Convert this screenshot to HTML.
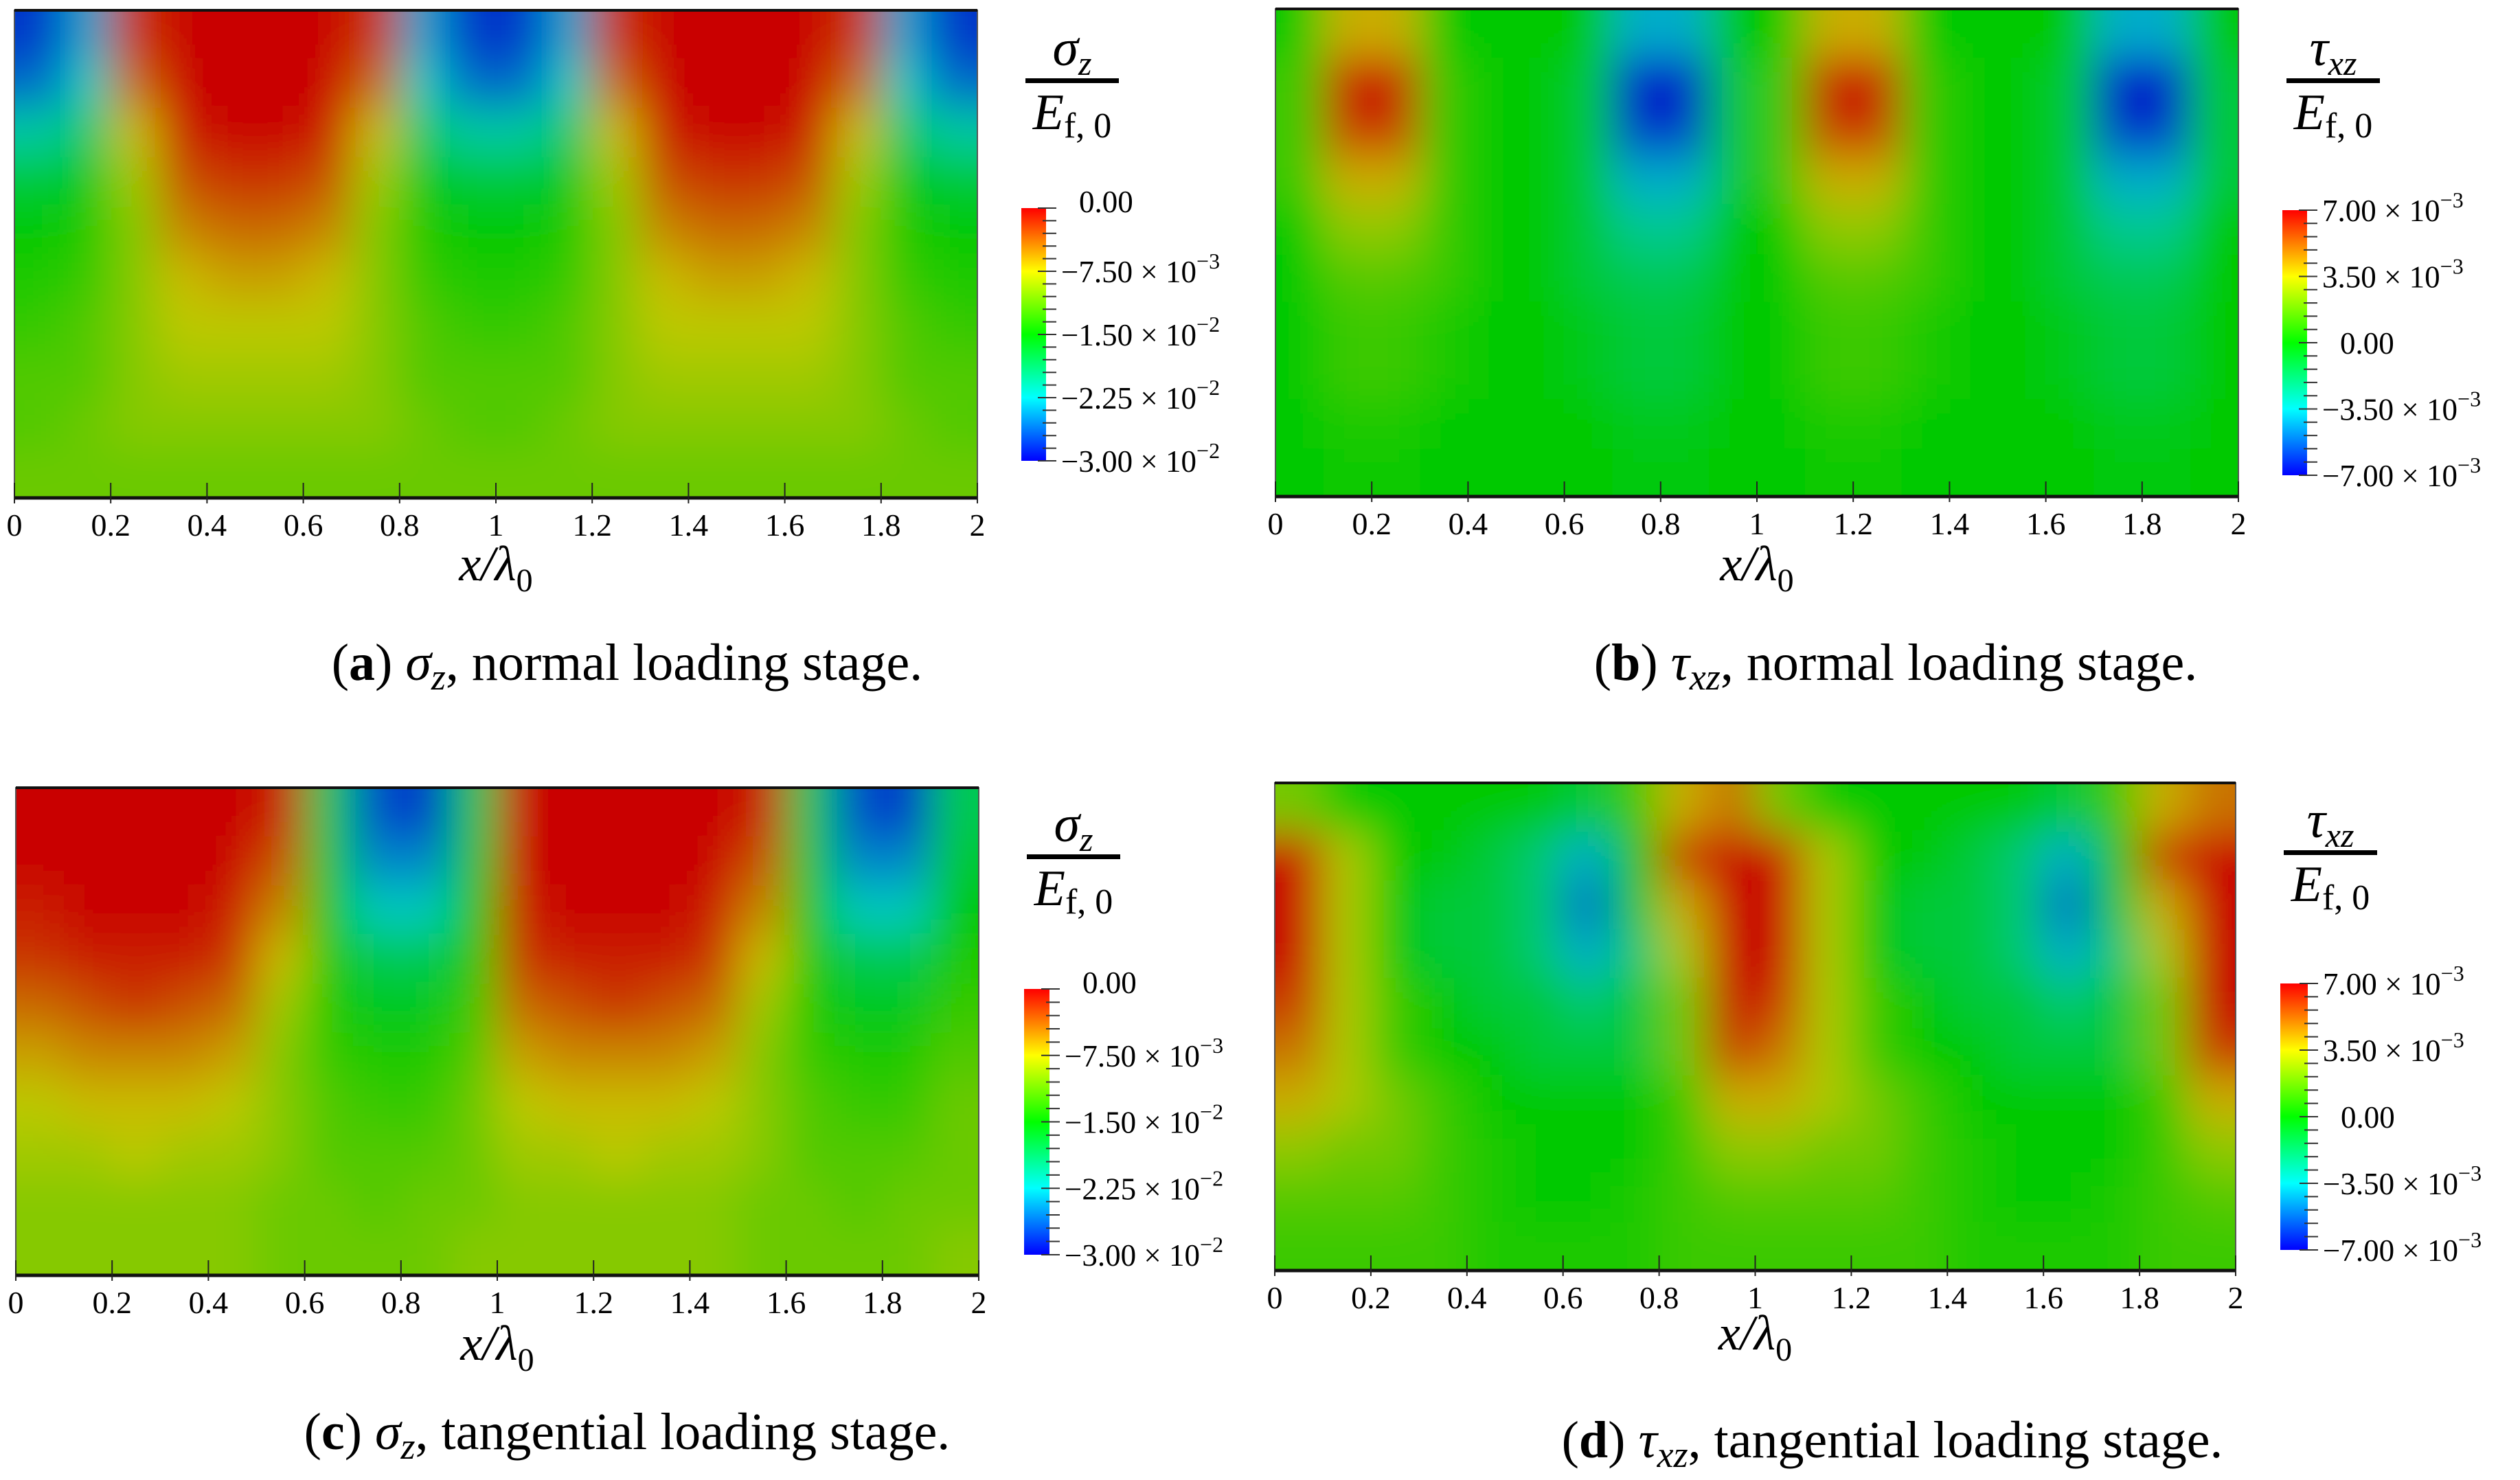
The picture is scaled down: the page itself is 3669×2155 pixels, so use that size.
<!DOCTYPE html>
<html><head><meta charset="utf-8">
<style>
html,body{margin:0;padding:0;background:#fff;}
svg{display:block;}
text{font-family:"Liberation Serif",serif;fill:#000;}
</style></head>
<body>
<svg id="fig" width="3669" height="2155" viewBox="0 0 3669 2155" xmlns="http://www.w3.org/2000/svg">
<defs>
<filter id="blur" x="-0.2" y="-0.2" width="1.4" height="1.4"><feGaussianBlur stdDeviation="32"/></filter>
<linearGradient id="jet" x1="0" y1="1" x2="0" y2="0">
<stop offset="0" stop-color="#0000ff"/><stop offset="0.25" stop-color="#00ffff"/><stop offset="0.5" stop-color="#00ff00"/><stop offset="0.75" stop-color="#ffff00"/><stop offset="1" stop-color="#ff0000"/>
</linearGradient>
</defs>
</svg>
<script>
// x-axis ticks (x/lambda0)
const xTicks = [0,0.2,0.4,0.6,0.8,1,1.2,1.4,1.6,1.8,2];
const xTickLabels = ["0","0.2","0.4","0.6","0.8","1","1.2","1.4","1.6","1.8","2"];
// colorbar ranges (units 1e-3)
const sigmaRange = [-30, 0];
const tauRange = [-7, 7];
const sigmaLabels = ["0.00","−7.50 × 10<sup>−3</sup>","−1.50 × 10<sup>−2</sup>","−2.25 × 10<sup>−2</sup>","−3.00 × 10<sup>−2</sup>"];
const tauLabels = ["7.00 × 10<sup>−3</sup>","3.50 × 10<sup>−3</sup>","0.00","−3.50 × 10<sup>−3</sup>","−7.00 × 10<sup>−3</sup>"];

// field values, 10 depth rows x 20 columns (x = 0.05 ... 1.95), units 1e-3
const fieldA = [
[-28,-24,-2,0,0,0,0,-2,-24,-28,-28,-24,-2,0,0,0,0,-2,-24,-28],
[-26,-22,-4,0,0,0,0,-4,-22,-26,-26,-22,-4,0,0,0,0,-4,-22,-26],
[-21,-19,-7,-1,0,0,-1,-7,-19,-21,-21,-19,-7,-1,0,0,-1,-7,-19,-21],
[-17,-16,-9,-3,-2,-2,-3,-9,-16,-17,-17,-16,-9,-3,-2,-2,-3,-9,-16,-17],
[-15,-14,-10,-5,-4,-4,-5,-10,-14,-15,-15,-14,-10,-5,-4,-4,-5,-10,-14,-15],
[-14,-13,-10,-7,-6,-6,-7,-10,-13,-14,-14,-13,-10,-7,-6,-6,-7,-10,-13,-14],
[-13,-12,-10,-8,-8,-8,-8,-10,-12,-13,-13,-12,-10,-8,-8,-8,-8,-10,-12,-13],
[-12,-12,-10,-9,-9,-9,-9,-10,-12,-12,-12,-12,-10,-9,-9,-9,-9,-10,-12,-12],
[-12,-11,-10,-10,-10,-10,-10,-10,-11,-12,-12,-11,-10,-10,-10,-10,-10,-10,-11,-12],
[-11,-11,-11,-11,-11,-11,-11,-11,-11,-11,-11,-11,-11,-11,-11,-11,-11,-11,-11,-11]
];
const fieldB = [
[0,4,4,0,0,0,0,-4,-4,0,0,4,4,0,0,0,0,-4,-4,0],
[1,7,7,1,0,0,-1,-7,-7,-1,1,7,7,1,0,0,-1,-7,-7,-1],
[1,6,6,1,0,0,-1,-6,-6,-1,1,6,6,1,0,0,-1,-6,-6,-1],
[1,4,4,1,0,0,-1,-4,-4,-1,1,4,4,1,0,0,-1,-4,-4,-1],
[0,2.5,2.5,1,0,0,-1,-2.5,-2.5,0,0,2.5,2.5,1,0,0,-1,-2.5,-2.5,0],
[0,1.5,1.5,1,0,0,-1,-1.5,-1.5,0,0,1.5,1.5,1,0,0,-1,-1.5,-1.5,0],
[0,1,1,0.5,0,0,-0.5,-1,-1,0,0,1,1,0.5,0,0,-0.5,-1,-1,0],
[0,1,1,0.5,0,0,-0.5,-1,-1,0,0,1,1,0.5,0,0,-0.5,-1,-1,0],
[0,0.5,0.5,0,0,0,0,-0.5,-0.5,0,0,0.5,0.5,0,0,0,0,-0.5,-0.5,0],
[0,0.3,0.3,0,0,0,0,-0.3,-0.3,0,0,0.3,0.3,0,0,0,0,-0.3,-0.3,0]
];
const fieldC = [
[0,0,0,0,0,-1,-18,-27,-28,-18,0,0,0,0,0,-1,-18,-27,-28,-18],
[0,0,0,0,0,-3,-17,-25,-25,-17,0,0,0,0,0,-3,-17,-25,-25,-17],
[-1,0,0,0,-1,-5,-15,-22,-22,-15,-1,0,0,0,-1,-5,-15,-22,-22,-15],
[-2,-1,-1,-1,-2,-7,-14,-18,-18,-14,-2,-1,-1,-1,-2,-7,-14,-18,-18,-14],
[-4,-3,-2,-3,-4,-9,-14,-16,-16,-13,-4,-3,-2,-3,-4,-9,-14,-16,-16,-13],
[-6,-5,-5,-5,-6,-10,-13,-14,-14,-12,-6,-5,-5,-5,-6,-10,-13,-14,-14,-12],
[-8,-7,-7,-7,-8,-10,-12,-13,-13,-11,-8,-7,-7,-7,-8,-10,-12,-13,-13,-11],
[-9,-9,-8,-9,-9,-10,-12,-12,-12,-11,-9,-9,-8,-9,-9,-10,-12,-12,-12,-11],
[-10,-10,-10,-10,-10,-11,-11,-12,-11,-11,-10,-10,-10,-10,-10,-11,-11,-12,-11,-11],
[-10,-10,-10,-10,-10,-11,-11,-11,-11,-10,-10,-10,-10,-10,-10,-11,-11,-11,-11,-10]
];
const fieldD = [
[2,0,0,0,0,0,-1,1,4,5,2,0,0,0,0,0,-1,1,4,5],
[7,3,0,0,-1,-2,-4,0,6,8,7,3,0,0,-1,-2,-4,0,6,8],
[7,3,0,-1,-1,-2,-5,-1,4,8,7,3,0,-1,-1,-2,-5,-1,4,8],
[7,3,0,-1,-1,-2,-4,-2,3,8,7,3,0,-1,-1,-2,-4,-2,3,8],
[6,3,1,0,-1,-1,-2,-1,2,7,6,3,1,0,-1,-1,-2,-1,2,7],
[5,3,1,0,0,-1,-1,-1,2,6,5,3,1,0,0,-1,-1,-1,2,6],
[4,3,2,1,0,0,0,0,1,4,4,3,2,1,0,0,0,0,1,4],
[2.5,2,2,1,0.5,0,0,0,1,2.5,2.5,2,2,1,0.5,0,0,0,1,2.5],
[1.5,1.5,1.5,1,0.5,0,0,0.5,1,1.5,1.5,1.5,1.5,1,0.5,0,0,0.5,1,1.5],
[1,1,1,1,0.5,0.5,0.5,0.5,1,1,1,1,1,1,0.5,0.5,0.5,0.5,1,1]
];

const NS = "http://www.w3.org/2000/svg";
const svg = document.getElementById('fig');
const defs = svg.querySelector('defs');

function jet(t){
  t=Math.max(0,Math.min(1,t));
  const stops=[[0,0,255],[0,255,255],[0,255,0],[255,255,0],[255,0,0]];
  const s=t*4, i=Math.min(3,Math.floor(s)), f=s-i;
  return stops[i].map((c,k)=>c+(stops[i+1][k]-c)*f);
}
function mk(tag, attrs, parent){
  const e=document.createElementNS(NS,tag);
  for(const k in attrs) e.setAttribute(k,attrs[k]);
  (parent||svg).appendChild(e);
  return e;
}

const panels = [
 {id:'a', field:fieldA, range:sigmaRange, labels:sigmaLabels, sym:'σ', sub:'z',
  px:[21,1423], py:[15,725], cb:[1487,303,36,368], fracX:1561, fracY:0, axisTitleY:845, cap:[913,990,'a','σ','z','normal']},
 {id:'b', field:fieldB, range:tauRange, labels:tauLabels, sym:'τ', sub:'xz',
  px:[1857,3259], py:[13,723], cb:[3323,306,36,386], fracX:3397, fracY:0, axisTitleY:845, cap:[2760,990,'b','τ','xz','normal']},
 {id:'c', field:fieldC, range:sigmaRange, labels:sigmaLabels, sym:'σ', sub:'z',
  px:[23,1425], py:[1147,1857], cb:[1491,1440,37,387], fracX:1563, fracY:1130, axisTitleY:1980, cap:[913,2110,'c','σ','z','tangential']},
 {id:'d', field:fieldD, range:tauRange, labels:tauLabels, sym:'τ', sub:'xz',
  px:[1856,3255], py:[1140,1850], cb:[3320,1432,40,388], fracX:3393, fracY:1124, axisTitleY:1965, cap:[2755,2122,'d','τ','xz','tangential']}
];

panels.forEach(p=>{
  const [x0,x1]=p.px, [y0,y1]=p.py;
  const nR=p.field.length, nC=p.field[0].length;
  const xs = v => x0 + (v/2)*(x1-x0);
  const ys = d => y0 + d*(y1-y0);
  const cval = v => (v-p.range[0])/(p.range[1]-p.range[0]);

  const g=mk('g',{});
  
  

  const cp=mk('clipPath',{id:'clip'+p.id},defs);
  mk('rect',{x:x0,y:y0,width:x1-x0,height:y1-y0},cp);
  const clipG=mk('g',{'clip-path':'url(#clip'+p.id+')'},g);
  const heat=mk('g',{filter:'url(#blur)'},clipG);
  
  
  const cw=2/nC, rh=1/nR, pad=100;
  p.field.forEach((row,r)=>{
    row.forEach((v,c)=>{
      let cx=xs(c*cw), cx2=xs((c+1)*cw), cy=ys(r*rh), cy2=ys((r+1)*rh);
      if(c===0) cx-=pad; if(c===nC-1) cx2+=pad;
      if(r===0) cy-=pad; if(r===nR-1) cy2+=pad;
      const col=jet(cval(v)).map(k=>Math.round(k*0.79));
      const cell=mk('rect',{x:cx,y:cy,width:cx2-cx+1,height:cy2-cy+1,fill:`rgb(${col})`},heat);
      
      
    });
  });
  mk('rect',{x:x0,y:y0,width:x1-x0,height:y1-y0,fill:'none',stroke:'#555',"stroke-width":2},g);
  const topL=mk('line',{x1:x0,x2:x1,y1:y0,y2:y0,stroke:'#111',"stroke-width":4},g);
  
  
  const ax=mk('line',{x1:x0,x2:x1,y1:y1,y2:y1,stroke:'#111',"stroke-width":5},g);
  
  
  xTicks.forEach((t,i)=>{
    const X=xs(t);
    const tk=mk('line',{x1:X,x2:X,y1:y1-22,y2:y1+8,stroke:'#222',"stroke-width":2},g);
    
    
    const tl=mk('text',{x:X,y:y1+55,"text-anchor":"middle","font-size":46},g);
    tl.textContent=xTickLabels[i];
    
    
  });
  const at=mk('text',{x:(x0+x1)/2,y:p.axisTitleY,"text-anchor":"middle","font-size":72,"font-style":"italic"},g);
  at.innerHTML='x/λ<tspan font-style="normal" font-size="48" dy="16">0</tspan>';
  
  
  const fy=p.fracY;
  const num=mk('text',{x:p.fracX,y:fy+95,"text-anchor":"middle","font-size":76,"font-style":"italic"},g);
  num.innerHTML=p.sym+'<tspan font-size="50" dy="14">'+p.sub+'</tspan>';
  
  
  const fl=mk('rect',{x:p.fracX-68,y:fy+114,width:136,height:7,fill:'#000'},g);
  
  
  const den=mk('text',{x:p.fracX,y:fy+188,"text-anchor":"middle","font-size":74,"font-style":"italic"},g);
  den.innerHTML='E<tspan font-style="normal" font-size="52" dy="12">f, 0</tspan>';
  
  
  const [bx,by,bw,bh]=p.cb;
  const bar=mk('rect',{x:bx,y:by,width:bw,height:bh,fill:'url(#jet)'},g);
  
  
  for(let k=0;k<=20;k++){
    const Y=by+bh*k/20, major=k%5===0;
    const t=mk('line',{x1:major?bx+bw-12:bx+bw-5,x2:bx+bw+15,y1:Y,y2:Y,stroke:'#333',"stroke-width":2},g);
    
    
  }
  p.labels.forEach((lab,k)=>{
    const Y=by+bh*k/4;
    const isZero=lab==='0.00';
    const lx = isZero ? bx+bw+48 : bx+bw+22;
    const ly = (p.id==='a'||p.id==='c') && k===0 ? Y+6 : Y+16;
    const tl=mk('text',{x:lx,y:ly,"font-size":45},g);
    tl.innerHTML=lab.replace(/<sup>(.*?)<\/sup>/,'<tspan font-size="32" dy="-20">$1</tspan>');
    
    
  });
  const [cxp,cyp,letter,sym,sub,stage]=p.cap;
  const cap=mk('text',{x:cxp,y:cyp,"text-anchor":"middle","font-size":76},g);
  cap.innerHTML='(<tspan font-weight="bold">'+letter+'</tspan>) <tspan font-style="italic">'+sym+'</tspan><tspan font-style="italic" font-size="54" dy="14">'+sub+'</tspan><tspan dy="-14">, '+stage+' loading stage.</tspan>';
  
  
});
</script>
</body></html>
